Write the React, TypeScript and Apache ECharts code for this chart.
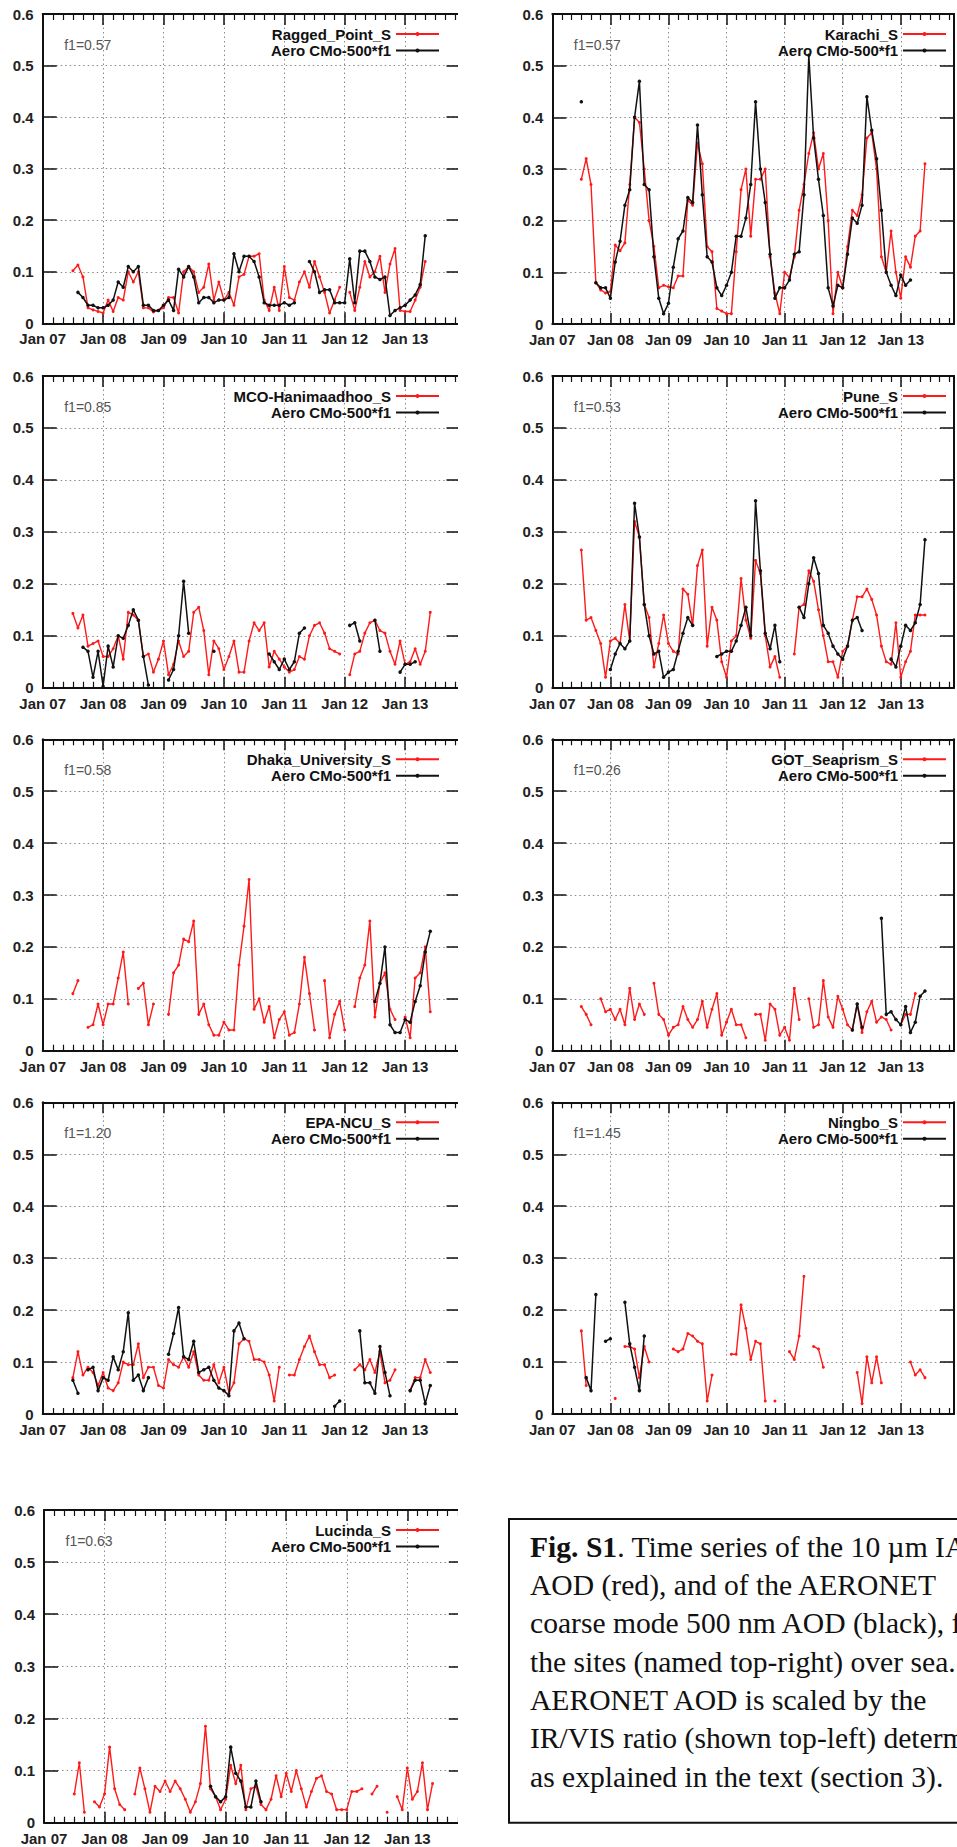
import React, { useEffect, useRef } from 'react';
import * as echarts from 'echarts';

const _ = null;
const gap = (n: number): null[] => Array(n).fill(null);

// Monthly values; first entry = Jul 2007
const BASE_YEAR = 2007;
const FIRST_MONTH = 6;
const X_MAX = 2014 - 1 / 12;

const xTickLabels = ['Jan 07', 'Jan 08', 'Jan 09', 'Jan 10', 'Jan 11', 'Jan 12', 'Jan 13'];
const siteNames = ['Ragged_Point_S', 'Karachi_S', 'MCO-Hanimaadhoo_S', 'Pune_S', 'Dhaka_University_S', 'GOT_Seaprism_S', 'EPA-NCU_S', 'Ningbo_S', 'Lucinda_S'];
const f1Labels = ['f1=0.57', 'f1=0.57', 'f1=0.85', 'f1=0.53', 'f1=0.58', 'f1=0.26', 'f1=1.20', 'f1=1.45', 'f1=0.63'];
const AERO_NAME = 'Aero CMo-500*f1';

const raggedRed = [
  .102, .113, .09, .03, .026, .023, .02, .045, .023, .05, .045, .10, .08, .10, .03, .03,
  .022, .025, .03, .05, .05, .02, .10, .11, .10, .06, .07, .115, .045, .08, .045, .06,
  .035, .09, .095, .13, .13, .135, .045, .025, .07, .025, .11, .05, .045, .08, .10, .07,
  .12, .09, .06, .02, .045, .07, _, .06, .025, .07, .12, .09, .10, .13, .06, .115,
  .145, .025, .023, .023, .045, .07, .12, _];
const raggedBlack = [
  _, .06, .05, .035, .035, .03, .03, .035, .045, .08, .07, .11, .10, .11, .035, .035,
  .025, .025, .035, .045, .025, .105, .09, .11, .09, .04, .05, .05, .04, .045, .045, .05,
  .135, .10, .13, .13, .12, .09, .04, .035, .035, .035, .04, .035, .04, _, _, .12,
  .10, .06, .065, .065, .04, .04, .04, .125, .04, .14, .14, .12, .09, .085, .09, .015,
  .025, .03, .035, .045, .055, .075, .17, _];

const karachiRed = [
  .28, .32, .27, .08, .066, .06, .063, .153, .142, .157, .27, .40, .39, .30, .20, .15,
  .07, .075, .072, .07, .093, .093, .24, .23, .35, .31, .15, .14, .03, .025, .02, .02,
  .14, .26, .30, .17, .28, .28, .30, .13, .06, .02, .10, .09, .13, .22, .27, .33,
  .37, .30, .33, .20, .02, .10, .07, .15, .22, .21, .25, .36, .37, .30, .13, .10,
  .18, .10, .05, .13, .11, .17, .18, .31];
const karachiBlack = [
  .43, _, _, .08, .07, .07, .05, .12, .16, .23, .26, .40, .47, .27, .26, .13,
  .05, .02, .04, .11, .165, .18, .245, .235, .385, .25, .13, .12, .07, .055, .075, .10,
  .17, .17, .205, .27, .43, .30, .235, .135, .05, .07, .07, .085, .135, .14, .25, .52,
  .36, .28, .21, .07, .035, .075, .07, .135, .205, .195, .23, .44, .375, .32, .22, .10,
  .075, .055, .095, .075, .085, _, _, _];

const mcoRed = [
  .143, .115, .14, .08, .085, .09, .06, .06, .075, .10, .055, .145, .14, .13, .06, .065,
  .03, .055, .09, .025, .045, .09, .06, .07, .145, .155, .11, .025, .09, .075, .035, .06,
  .09, .03, .03, .09, .125, .11, .125, .04, .07, .055, .04, .03, .035, .06, .055, .10,
  .12, .125, .105, .075, .07, .065, _, .025, .065, .07, .105, .125, .13, .11, .105, .07,
  .045, .09, .045, .05, .075, .045, .07, .145];
const mcoBlack = [
  _, _, .078, .07, .02, .07, .003, .08, .04, .10, .095, .12, .15, .13, .06, .005,
  _, _, _, .015, .035, .10, .205, .105, _, _, _, _, .07, _, _, _,
  _, _, _, _, _, _, _, .065, .05, .035, .055, .035, .05, .105, .115, _,
  _, _, _, _, _, _, _, .12, .125, .09, _, _, .13, .07, _, _,
  _, .03, .045, .045, .05, _, _, _];

const puneRed = [
  .265, .13, .135, .11, .085, .02, .09, .095, .085, .16, .09, .32, .29, .16, .135, .04,
  .085, .14, .085, .07, .065, .19, .18, .12, .235, .265, .08, .155, .13, .05, .02, .09,
  .10, .21, .13, .095, .245, .22, .10, .04, .06, .02, _, _, .065, .155, .16, .225,
  .205, .15, .10, .05, .05, .02, .07, .08, .13, .175, .175, .19, .17, .14, .08, .05,
  .045, .125, .02, .05, .07, .14, .14, .14];
const puneBlack = [
  _, _, _, _, _, _, .035, .065, .085, .075, .09, .355, .29, .16, .10, .065,
  .07, .02, .03, .035, .07, .105, .135, .12, _, _, _, _, .06, .065, .07, .07,
  .09, .12, .155, .10, .36, .225, .105, .075, .12, .05, _, _, _, .155, .135, .20,
  .25, .22, .12, .105, .08, .065, .055, .08, .13, .135, .11, _, _, _, _, _,
  .055, .04, .08, .12, .11, .125, .16, .285];

const dhakaRed = [
  .11, .135, _, .045, .05, .09, .05, .09, .09, .14, .19, .09, _, .12, .13, .05,
  .09, _, _, .07, .15, .165, .215, .21, .25, .07, .09, .05, .03, .03, .055, .04,
  .04, .165, .24, .33, .08, .10, .055, .085, .025, .06, .075, .03, .035, .09, .18, .11,
  .04, _, .135, .025, .07, .095, .04, _, .085, .14, .165, .25, .065, .13, .15, .08,
  .06, _, .065, .025, .14, .15, .20, .075];
const dhakaBlack = [
  ...gap(60),
  .095, .13, .20, .05, .035, .035, .06, .055, .095, .125, .19, .23];

const gotRed = [
  .085, .07, .05, _, .10, .075, .08, .06, .08, .05, .12, .06, .09, .07, _, .13,
  .07, .06, .03, .045, .05, .085, .06, .045, .06, .095, .045, .08, .11, .03, .055, .08,
  .05, .05, .025, _, .07, .07, .02, .09, .08, .03, .045, .02, .12, .06, _, .10,
  .045, .05, .135, .065, .045, .105, .08, .05, .04, .09, .035, .075, .095, .055, .065, .06,
  .04, _, .05, .07, .07, .11, _, _];
const gotBlack = [
  ...gap(56),
  .04, .09, .045, _, _, _, .255, .07, .075, .06, .05, .085, .035, .055, .105, .115];

const epaRed = [
  .07, .12, .075, .09, .08, .055, .08, .05, .045, .06, .10, .095, .095, .135, .07, .09,
  .09, .055, .05, .105, .095, .09, .11, .09, .12, .075, .065, .065, .095, .06, .09, .04,
  .06, .135, .145, .14, .105, .105, .10, .075, .025, .09, _, .075, .075, .105, .13, .15,
  .12, .095, .095, .07, .075, _, _, _, .085, .095, .085, .105, .08, .12, .06, .065,
  .085, _, _, .045, .07, .07, .105, .08];
const epaBlack = [
  .065, .04, _, .085, .09, .045, .07, .065, .11, .085, .12, .195, .065, .075, .045, .07,
  _, _, _, .115, .155, .205, .11, .105, .14, .08, .085, .09, .065, .05, .045, .035,
  .16, .175, .145, _, _, _, _, _, _, _, _, _, _, _, _, _,
  _, _, _, _, .015, .025, _, _, _, .16, .06, .06, .04, .13, .08, .035,
  _, _, _, .045, .065, .065, .02, .055];

const ningboRed = [
  .16, .055, _, _, _, _, _, .03, _, .13, .13, .125, .07, .13, .10, _,
  _, _, _, .125, .12, .125, .155, .15, .14, .135, .025, .075, _, _, _, .115,
  .115, .21, .165, .105, .14, .135, .025, _, .025, _, _, .12, .105, .15, .265, _,
  .13, .125, .09, _, _, _, _, _, _, .08, .02, .11, .06, .11, .06, _,
  _, _, _, _, .10, .075, .085, .07];
const ningboBlack = [
  _, .07, .045, .23, _, .14, .145, _, _, .215, .135, .09, .045, .15, _, _,
  ...gap(56)];

const lucindaRed = [
  .055, .115, .02, _, .04, .03, .055, .145, .065, .035, .025, _, .055, .105, .065, .02,
  .07, .06, .08, .06, .08, .065, .045, .02, .04, .075, .185, .065, .05, .025, .045, .11,
  .075, .11, .025, .065, .07, .035, .025, .045, .09, .05, .095, .06, .10, .065, .03, .06,
  .085, .09, .06, .055, .025, .025, .025, .06, .06, .065, _, .055, .07, _, .02, _,
  .05, .025, .105, .045, .06, .115, .025, .075];
const lucindaBlack = [
  ...gap(27),
  .07, .05, .04, .05, .145, .095, .08, .03, .03, .08, .04,
  ...gap(34)];

const redSeries = [raggedRed, karachiRed, mcoRed, puneRed, dhakaRed, gotRed, epaRed, ningboRed, lucindaRed];
const blackSeries = [raggedBlack, karachiBlack, mcoBlack, puneBlack, dhakaBlack, gotBlack, epaBlack, ningboBlack, lucindaBlack];

const captionLines = [
  '{b|Fig. S1}. Time series of the 10 µm IASI',
  'AOD (red), and of the AERONET',
  'coarse mode 500 nm AOD (black), for',
  'the sites (named top-right) over sea. The',
  'AERONET AOD is scaled by the',
  'IR/VIS ratio (shown top-left) determined',
  'as explained in the text (section 3).',
];

// Layout (px)
const gridLefts = [42.7, 552.3, 42.7, 552.3, 42.7, 552.3, 42.7, 552.3, 44];
const gridTops = [14, 14, 376, 376, 739.3, 739.3, 1102.3, 1102.3, 1510];
const gridHeights = [309.3, 310, 311.7, 311.7, 311.4, 311.4, 311.7, 311.7, 312.7];
const pxPerYear = [60.4, 59.9, 60.4, 59.9, 60.4, 59.9, 60.4, 59.9, 60.55];

const SANS = "'Liberation Sans', Arial, Helvetica, sans-serif";
const SERIF = "'Liberation Serif', 'Times New Roman', serif";
const AXIS_COLOR = '#111';
const CAPTION_SIZE = 29.6;

function toPoints(vals: (number | null)[]) {
  return vals.map((v, k) => [BASE_YEAR + (FIRST_MONTH + k) / 12, v]);
}

function buildOption() {
  const grid: any[] = [];
  const xAxis: any[] = [];
  const yAxis: any[] = [];
  const series: any[] = [];
  const legend: any[] = [];
  const elements: any[] = [];

  siteNames.forEach((name, i) => {
    const left = gridLefts[i];
    const top = gridTops[i];
    const height = gridHeights[i];
    const width = pxPerYear[i] * (X_MAX - BASE_YEAR);
    const isLeftCol = gridLefts[i] < 300;
    grid.push({ left, top, width, height, containLabel: false });

    const axisLine = { show: true, onZero: false, lineStyle: { color: AXIS_COLOR, width: 2 } };
    const xCommon = {
      type: 'value', gridIndex: i, min: BASE_YEAR, max: X_MAX, interval: 1,
      axisLine,
      axisTick: { show: true, inside: true, length: 11, lineStyle: { color: AXIS_COLOR, width: 1.5 } },
      minorTick: { show: true, splitNumber: 6, length: 6, lineStyle: { color: AXIS_COLOR, width: 1.2 } },
      minorSplitLine: { show: false },
    };
    xAxis.push({
      ...xCommon, position: 'bottom',
      axisLabel: {
        show: true, margin: 8, fontSize: 15, fontWeight: 'bold', fontFamily: SANS, color: '#222',
        formatter: (v: number) => {
          const r = Math.round(v);
          if (Math.abs(v - r) > 1e-6) return '';
          return xTickLabels[r - BASE_YEAR] ?? '';
        },
      },
      splitLine: { show: true, lineStyle: { color: '#8a8a8a', width: 1, type: [1.5, 3] } },
    });
    xAxis.push({
      ...xCommon, position: 'top',
      axisLabel: { show: false },
      splitLine: { show: false },
    });
    const yCommon = {
      type: 'value', gridIndex: i, min: 0, max: 0.6, interval: 0.1,
      axisLine,
      axisTick: { show: true, inside: true, length: 14, lineStyle: { color: AXIS_COLOR, width: 1.5 } },
    };
    yAxis.push({
      ...yCommon, position: 'left',
      axisLabel: {
        show: true, margin: 9, fontSize: 15, fontWeight: 'bold', fontFamily: SANS, color: '#222',
        formatter: (v: number) => (Math.abs(v) < 1e-9 ? '0' : v.toFixed(1)),
      },
      splitLine: { show: true, lineStyle: { color: '#8a8a8a', width: 1, type: [1.5, 3] } },
    });
    yAxis.push({
      ...yCommon, position: 'right',
      axisLabel: { show: false },
      splitLine: { show: false },
    });

    series.push({
      type: 'line', name, xAxisIndex: 2 * i, yAxisIndex: 2 * i,
      data: toPoints(redSeries[i]), connectNulls: false,
      symbol: 'circle', symbolSize: 3, showSymbol: true,
      lineStyle: { color: '#ff1a1a', width: 1.4 }, itemStyle: { color: '#ff1a1a' },
      emphasis: { disabled: true }, z: 2, animation: false,
    });
    series.push({
      type: 'line', name: AERO_NAME, xAxisIndex: 2 * i, yAxisIndex: 2 * i,
      data: toPoints(blackSeries[i]), connectNulls: false,
      symbol: 'circle', symbolSize: 3.5, showSymbol: true,
      lineStyle: { color: '#111', width: 1.5 }, itemStyle: { color: '#111' },
      emphasis: { disabled: true }, z: 3, animation: false,
    });

    legend.push({
      orient: 'vertical', align: 'right', selectedMode: false,
      right: isLeftCol ? 957 - 440 : 10, top: top + 11.75,
      padding: 0, itemGap: 0, itemWidth: 43, itemHeight: 5,
      textStyle: { fontSize: 15, fontWeight: 'bold', fontFamily: SANS, color: '#111', lineHeight: 16.5 },
      data: [name, AERO_NAME],
    });

    elements.push({
      type: 'text', x: left + 21.5, y: top + 31, z: 50,
      style: { text: f1Labels[i], fill: '#555', fontSize: 14, fontFamily: SANS, verticalAlign: 'middle', align: 'left' },
    });

    if (isLeftCol) {
      elements.push({
        type: 'rect', z: 100,
        shape: { x: 458, y: top - 10, width: i === 8 ? 48 : 54, height: height + 20 },
        style: { fill: '#ffffff', stroke: 'none' },
      });
    }
  });

  // caption box
  elements.push({
    type: 'rect', z: 50,
    shape: { x: 509, y: 1519, width: 520, height: 303.7 },
    style: { fill: 'none', stroke: '#111', lineWidth: 2 },
  });
  captionLines.forEach((line, k) => {
    elements.push({
      type: 'text', x: 530, y: 1546.8 + 38.3 * k, z: 50,
      style: {
        text: line, fill: '#111', fontSize: CAPTION_SIZE, fontFamily: SERIF,
        verticalAlign: 'middle', align: 'left',
        rich: { b: { fontWeight: 'bold', fontSize: CAPTION_SIZE, fontFamily: SERIF, fill: '#111' } },
      },
    });
  });

  return {
    animation: false,
    backgroundColor: '#ffffff',
    textStyle: { fontFamily: SANS },
    grid, xAxis, yAxis, series, legend,
    graphic: { elements },
  };
}

export default function App() {
  const ref = useRef<HTMLDivElement>(null);
  useEffect(() => {
    if (!ref.current) return;
    const chart = echarts.init(ref.current, null, { renderer: 'svg' });
    chart.setOption(buildOption() as any);
    return () => chart.dispose();
  }, []);
  return (
    <div
      ref={ref}
      style={{ position: 'absolute', left: 0, top: 0, width: 957, height: 1847, background: '#fff' }}
    />
  );
}
